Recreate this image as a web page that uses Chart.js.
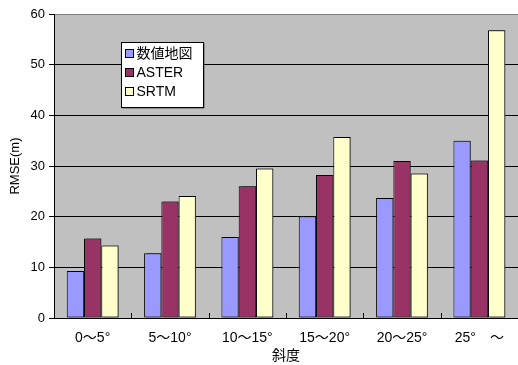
<!DOCTYPE html>
<html><head><meta charset="utf-8">
<script src="https://cdn.jsdelivr.net/npm/chart.js@4/dist/chart.umd.min.js"></script>
<style>html,body{margin:0;padding:0;background:#fff}#wrap{width:518px;height:365px}</style>
</head><body><div id="wrap"><canvas id="c" width="518" height="365"></canvas></div>
<script>
const categories = ['0～5°', '5～10°', '10～15°', '15～20°', '20～25°', '25°　～'];
const digitalMap = [9.3, 12.8, 16.0, 20.1, 23.7, 35.0];
const aster = [15.7, 23.0, 26.0, 28.2, 31.0, 31.1];
const srtm = [14.3, 24.1, 29.5, 35.7, 28.5, 56.8];
const seriesNames = ['数値地図', 'ASTER', 'SRTM'];
const yTicks = [0, 10, 20, 30, 40, 50, 60];

const FONT = '"Liberation Sans", "Noto Sans CJK JP", sans-serif';

const extras = {
  id: 'extras',
  beforeDatasetsDraw(chart) {
    const ctx = chart.ctx;
    ctx.save();
    ctx.shadowColor = 'rgba(60,60,60,0.8)';
    ctx.shadowOffsetX = 2;
    ctx.shadowOffsetY = 0;
    ctx.shadowBlur = 0;
  },
  afterDatasetsDraw(chart) {
    const ctx = chart.ctx;
    ctx.restore();
    const x = chart.scales.x, ca = chart.chartArea;
    ctx.save();
    ctx.strokeStyle = '#000'; ctx.lineWidth = 1;
    for (let i = 1; i < categories.length; i++) {
      const px = Math.round((x.getPixelForValue(i - 1) + x.getPixelForValue(i)) / 2) + 0.5;
      ctx.beginPath(); ctx.moveTo(px, ca.bottom); ctx.lineTo(px, ca.bottom - 5); ctx.stroke();
    }
    ctx.restore();
  },
  afterDraw(chart) {
    const ctx = chart.ctx;
    const bx = 121.5, by = 42.5, bw = 82, bh = 65;
    ctx.save();
    ctx.shadowColor = 'rgba(60,60,60,0.8)'; ctx.shadowOffsetX = 1; ctx.shadowOffsetY = 1;
    ctx.fillStyle = '#fff'; ctx.fillRect(bx, by, bw, bh);
    ctx.shadowColor = 'transparent';
    ctx.strokeStyle = '#000'; ctx.lineWidth = 1; ctx.strokeRect(bx, by, bw, bh);
    ctx.font = '14px ' + FONT; ctx.textBaseline = 'middle'; ctx.fillStyle = '#000';
    chart.data.datasets.forEach((ds, i) => {
      const cy = by + 11 + i * 19;
      ctx.fillStyle = ds.backgroundColor;
      ctx.fillRect(bx + 4, cy - 4, 8, 8);
      ctx.strokeStyle = '#000'; ctx.strokeRect(bx + 4, cy - 4, 8, 8);
      ctx.fillStyle = '#000';
      ctx.fillText(ds.label, bx + 15, cy + 1);
    });
    ctx.restore();
  }
};

new Chart(document.getElementById('c'), {
  type: 'bar',
  data: {
    labels: categories,
    datasets: [
      { label: seriesNames[0], data: digitalMap, backgroundColor: '#9999FF' },
      { label: seriesNames[1], data: aster, backgroundColor: '#993366' },
      { label: seriesNames[2], data: srtm, backgroundColor: '#FFFFCC' }
    ].map(d => Object.assign(d, { borderColor: '#000', borderWidth: 1, borderSkipped: false,
      categoryPercentage: 0.67, barPercentage: 1.0 }))
  },
  options: {
    responsive: false, animation: false, devicePixelRatio: 1,
    layout: { padding: { top: 14, right: -2, left: 0, bottom: 0 } },
    plugins: { legend: { display: false }, tooltip: { enabled: false } },
    scales: {
      x: {
        grid: { display: false },
        border: { display: true, color: '#000', width: 1 },
        ticks: { color: '#000', font: { family: FONT, size: 14 }, padding: 4, maxRotation: 0 },
        title: { display: true, text: '斜度', color: '#000', font: { family: FONT, size: 14 }, padding: { top: 0, bottom: 0 } },
        afterFit(s) { s.height = 47; }
      },
      y: {
        min: 0, max: 60,
        afterBuildTicks(s) { s.ticks = yTicks.map(v => ({ value: v })); },
        grid: { color: c => c.tick && c.tick.value === 60 ? '#808080' : '#000', lineWidth: 1, tickLength: 5, tickColor: '#000', drawTicks: true },
        border: { display: true, color: '#000', width: 1 },
        ticks: { color: '#000', font: { family: FONT, size: 13 }, padding: 4 },
        title: { display: true, text: 'RMSE(m)', color: '#000', font: { family: FONT, size: 13 }, padding: { top: 8, bottom: 0 } },
        afterFit(s) { s.width = 54; }
      }
    }
  },
  plugins: [{
    id: 'bg',
    beforeDraw(chart) {
      const { ctx, chartArea: a } = chart;
      ctx.save(); ctx.fillStyle = '#C0C0C0';
      ctx.fillRect(a.left, a.top, a.right - a.left, a.bottom - a.top);
      ctx.restore();
    }
  }, extras]
});
</script>
</body></html>
